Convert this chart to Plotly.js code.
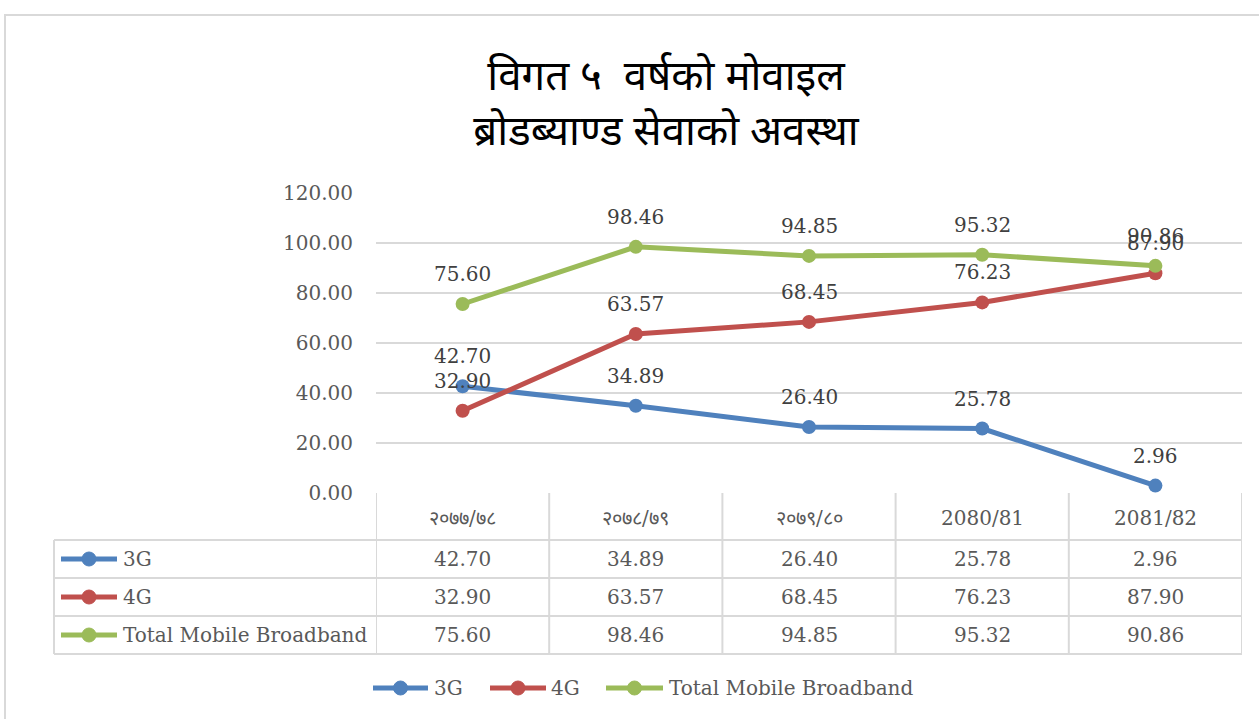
<!DOCTYPE html>
<html>
<head>
<meta charset="utf-8">
<script src="https://cdn.plot.ly/plotly-3.0.1.min.js"></script>
<style>html,body{margin:0;padding:0;background:#fff;}#chart{width:1259px;height:719px;}</style>
</head>
<body>
<div id="chart"></div>
<script>
// ---- data ----
const categories = ['२०७७/७८', '२०७८/७९', '२०७९/८०', '2080/81', '2081/82'];
const seriesNames = ['3G', '4G', 'Total Mobile Broadband'];
const values3G = [42.70, 34.89, 26.40, 25.78, 2.96];
const values4G = [32.90, 63.57, 68.45, 76.23, 87.90];
const valuesTotal = [75.60, 98.46, 94.85, 95.32, 90.86];
const yTickValues = [0, 20, 40, 60, 80, 100, 120];
const titleLines = ['विगत ५  वर्षको मोवाइल', 'ब्रोडब्याण्ड सेवाको अवस्था'];

// ---- styling / layout helpers ----
const W = 1259, H = 719;
const colors = ['#4F81BD', '#C0504D', '#9BBB59'];
const series = [values3G, values4G, valuesTotal];
const px = p => p / W;
const py = p => 1 - p / H;
const serif = 'DejaVu Serif, serif';
const grid = '#d9d9d9';
const textGrey = '#595959';

const plotLeft = 376, plotRight = 1242, plotTop = 193, plotBottom = 493;
const tableLeft = 54, headerBottom = 540, rowH = 38;

const idx = categories.map((_, i) => i);

const traces = series.map((vals, i) => ({
  type: 'scatter', mode: 'lines+markers',
  x: idx, y: vals, name: seriesNames[i],
  line: {color: colors[i], width: 5},
  marker: {color: colors[i], size: 14},
  hoverinfo: 'skip', cliponaxis: false, showlegend: false
}));

const annotations = [];
const shapes = [];

// data labels
series.forEach((vals, i) => {
  vals.forEach((v, j) => {
    annotations.push({x: j, y: v, xref: 'x', yref: 'y', text: v.toFixed(2), showarrow: false,
      xanchor: 'center', yanchor: 'middle', yshift: 30,
      font: {family: serif, size: 20, color: '#404040'}});
  });
});
// table header
categories.forEach((c, j) => {
  annotations.push({x: j, y: py((plotBottom + headerBottom) / 2 + 1), xref: 'x', yref: 'paper', text: c,
    xanchor: 'center', yanchor: 'middle', showarrow: false, font: {family: serif, size: 20, color: textGrey}});
});

// legend key helper (line with a dot)
function key(x0, x1, cy, color) {
  shapes.push({type: 'line', xref: 'paper', yref: 'paper', x0: px(x0), x1: px(x1), y0: py(cy), y1: py(cy),
    line: {color: color, width: 5}});
  const cx = (x0 + x1) / 2, r = 7;
  shapes.push({type: 'circle', xref: 'paper', yref: 'paper', x0: px(cx - r), x1: px(cx + r), y0: py(cy - r), y1: py(cy + r),
    fillcolor: color, line: {color: color, width: 1}});
}

// table rows
series.forEach((vals, i) => {
  const cy = headerBottom + rowH * i + rowH / 2;
  annotations.push({x: px(121), y: py(cy), xref: 'paper', yref: 'paper', xanchor: 'left', yanchor: 'middle',
    text: seriesNames[i], showarrow: false, font: {family: serif, size: 20, color: textGrey}});
  vals.forEach((v, j) => {
    annotations.push({x: j, y: py(cy), xref: 'x', yref: 'paper', text: v.toFixed(2), xanchor: 'center', yanchor: 'middle',
      showarrow: false, font: {family: serif, size: 20, color: textGrey}});
  });
  key(61, 117, cy, colors[i]);
});

// table grid lines
const tableBottom = headerBottom + rowH * series.length;
for (let r = 0; r <= series.length; r++) {
  const yy = headerBottom + rowH * r;
  shapes.push({type: 'line', xref: 'paper', yref: 'paper', x0: px(tableLeft), x1: px(plotRight), y0: py(yy), y1: py(yy),
    line: {color: grid, width: 2}, layer: 'below'});
}
shapes.push({type: 'line', xref: 'paper', yref: 'paper', x0: px(tableLeft), x1: px(tableLeft), y0: py(headerBottom), y1: py(tableBottom),
  line: {color: grid, width: 2}, layer: 'below'});
for (let j = 0; j <= categories.length; j++) {
  shapes.push({type: 'line', xref: 'x', yref: 'paper', x0: j - 0.5, x1: j - 0.5, y0: py(plotBottom), y1: py(tableBottom),
    line: {color: grid, width: 2}, layer: 'below'});
}

// bottom legend
const legendY = 688;
const legendItems = [{k0: 373, k1: 428, t: 432}, {k0: 490, k1: 546, t: 549}, {k0: 606, k1: 663, t: 667}];
legendItems.forEach((it, i) => {
  key(it.k0, it.k1, legendY, colors[i]);
  annotations.push({x: px(it.t), y: py(legendY), xref: 'paper', yref: 'paper', xanchor: 'left', yanchor: 'middle',
    text: seriesNames[i], showarrow: false, font: {family: serif, size: 20, color: textGrey}});
});

// outer frame
shapes.push({type: 'rect', xref: 'paper', yref: 'paper', x0: px(5), x1: 1.02, y0: py(15), y1: -0.02,
  line: {color: grid, width: 2}, fillcolor: 'rgba(0,0,0,0)', layer: 'below'});

const layout = {
  width: W, height: H, autosize: false,
  margin: {l: 0, r: 0, t: 0, b: 0},
  paper_bgcolor: '#fff', plot_bgcolor: '#fff',
  title: {text: titleLines.join('<br>'), x: px(666), xanchor: 'center', y: py(90), yanchor: 'middle',
    font: {family: 'Noto Sans, sans-serif', size: 42, color: '#000'}},
  xaxis: {domain: [px(plotLeft), px(plotRight)], range: [-0.5, categories.length - 0.5],
    showticklabels: false, showgrid: false, zeroline: false, showline: false, fixedrange: true},
  yaxis: {domain: [py(plotBottom), py(plotTop)], range: [0, 120], tickvals: yTickValues, tickformat: '.2f',
    showgrid: true, gridcolor: grid, gridwidth: 2, zeroline: false, showline: false, ticks: '',
    ticklabelstandoff: 22, tickfont: {family: serif, size: 20, color: textGrey}, fixedrange: true},
  showlegend: false,
  annotations: annotations, shapes: shapes
};

Plotly.newPlot('chart', traces, layout, {displayModeBar: false, staticPlot: true});
</script>
</body>
</html>
